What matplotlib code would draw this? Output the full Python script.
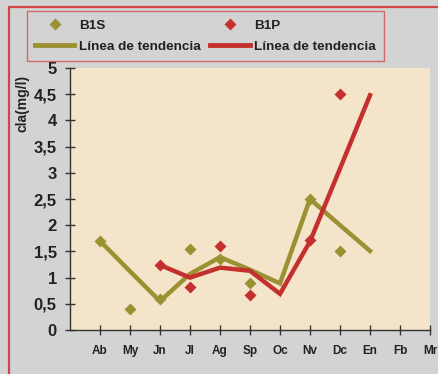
import matplotlib
matplotlib.use('Agg')
import matplotlib.pyplot as plt
from matplotlib.patches import Rectangle

plt.rcParams['font.family'] = ['Liberation Sans', 'DejaVu Sans']
plt.rcParams['font.weight'] = 'bold'

# Data
months = ['Ab', 'My', 'Jn', 'Jl', 'Ag', 'Sp', 'Oc', 'Nv', 'Dc', 'En', 'Fb', 'Mr']

b1s_months = ['Ab', 'My', 'Jn', 'Jl', 'Ag', 'Sp', 'Nv', 'Dc']
b1s_values = [1.70, 0.40, 0.60, 1.55, 1.35, 0.90, 2.50, 1.50]

b1p_months = ['Jn', 'Jl', 'Ag', 'Sp', 'Nv', 'Dc']
b1p_values = [1.25, 0.82, 1.61, 0.67, 1.71, 4.51]

trend_s_months = ['Ab', 'My', 'Jn', 'Jl', 'Ag', 'Sp', 'Oc', 'Nv', 'Dc', 'En']
trend_s_values = [1.70, 1.12, 0.55, 1.07, 1.39, 1.15, 0.89, 2.50, 2.00, 1.51]

trend_p_months = ['Jn', 'Jl', 'Ag', 'Sp', 'Oc', 'Nv', 'Dc', 'En']
trend_p_values = [1.24, 1.00, 1.19, 1.13, 0.69, 1.69, 3.08, 4.48]

yticks = [0, 0.5, 1, 1.5, 2, 2.5, 3, 3.5, 4, 4.5, 5]
ytick_labels = ['0', '0,5', '1', '1,5', '2', '2,5', '3', '3,5', '4', '4,5', '5']

olive = '#9b9132'
red = '#c3302d'
gray_bg = '#d3d3d3'
plot_bg = '#f4e5ca'

idx = {m: i for i, m in enumerate(months)}

W, H = 438, 374
fig = plt.figure(figsize=(W / 100, H / 100), dpi=100, facecolor=gray_bg)
ax = fig.add_axes([70 / W, 44 / H, 360 / W, 262 / H])
ax.set_facecolor(plot_bg)

# trend lines
ax.plot([idx[m] for m in trend_s_months], trend_s_values, color=olive, lw=3.2, zorder=3,
        solid_joinstyle='miter', label='Línea de tendencia')
ax.plot([idx[m] for m in trend_p_months], trend_p_values, color=red, lw=3.2, zorder=4,
        solid_joinstyle='miter', label='Línea de tendencia')

# points
ax.plot([idx[m] for m in b1s_months], b1s_values, 'D', color=olive, ms=6.5, mec='none',
        zorder=5, label='B1S')
ax.plot([idx[m] for m in b1p_months], b1p_values, 'D', color=red, ms=6.5, mec='none',
        zorder=5, label='B1P')

ax.set_xlim(-1, 11)
ax.set_ylim(0, 5)
ax.set_xticks(range(len(months)))
ax.set_xticklabels(months, fontsize=8.5, fontweight='bold', color='#222222')
ax.set_yticks(yticks)
ax.set_yticklabels(ytick_labels, fontsize=12, fontweight='bold', color='#222222')
ax.tick_params(axis='both', direction='inout', length=7, width=1, color='#333333')
ax.tick_params(axis='x', pad=7)
ax.tick_params(axis='y', pad=6)
for side in ['top', 'right']:
    ax.spines[side].set_visible(False)
for side in ['left', 'bottom']:
    ax.spines[side].set_color('#333333')
    ax.spines[side].set_linewidth(1)
ax.grid(False)

fig.text(22 / W, 1 - 103 / H, 'cla(mg/l)', rotation=90, ha='center', va='center',
         fontsize=10, fontweight='bold', color='#222222')

# legend
h, l = ax.get_legend_handles_labels()
order = [2, 0, 3, 1]
leg = fig.legend([h[i] for i in order], [l[i] for i in order], ncol=2,
                 loc='upper left', bbox_to_anchor=(27 / W, 1 - 11 / H),
                 borderaxespad=0, frameon=True, fancybox=False, fontsize=9.7,
                 handlelength=2.9, handletextpad=0.36, columnspacing=0.72,
                 labelspacing=0.68, borderpad=0.6, markerscale=1.0)
leg.get_frame().set_edgecolor('#d05050')
leg.get_frame().set_facecolor(gray_bg)
leg.get_frame().set_linewidth(1)
for t in leg.get_texts():
    t.set_fontweight('bold')
    t.set_color('#222222')
for lh in leg.legend_handles:
    if lh.get_linestyle() not in ('None', 'none', ''):
        lh.set_linewidth(3.5)

# outer red frame
fig.patches.append(Rectangle((9 / W, -0.1), 1.2, 1 - 7 / H + 0.1, transform=fig.transFigure,
                             fill=False, edgecolor='#d04545', lw=1.6))

fig.savefig('out.png', dpi=100, facecolor=gray_bg)
